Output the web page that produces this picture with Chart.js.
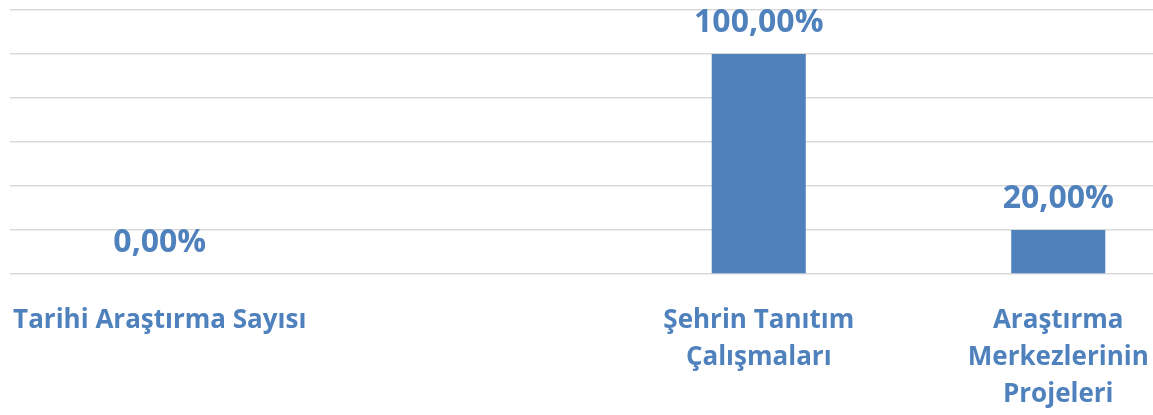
<!DOCTYPE html>
<html>
<head>
<meta charset="utf-8">
<script src="https://cdn.jsdelivr.net/npm/chart.js@4"></script>
<style>
  html, body { margin: 0; padding: 0; background: #fff; overflow: hidden; }
  #wrap { width: 1153px; height: 415px; overflow: hidden; }
</style>
</head>
<body>
<div id="wrap"><canvas id="chart" width="1210" height="415"></canvas></div>
<script>
// chart data
const categories = [
  'Tarihi Araştırma Sayısı',
  '',
  ['Şehrin Tanıtım', 'Çalışmaları'],
  ['Araştırma', 'Merkezlerinin', 'Projeleri']
];
const values = [0, null, 100, 20];
const yTicks = [0, 20, 40, 60, 80, 100, 120];

const blue = '#4F81BD';

// draws the value labels above each bar (like Excel data labels)
const valueLabels = {
  id: 'valueLabels',
  afterDatasetsDraw(chart) {
    const ctx = chart.ctx;
    const meta = chart.getDatasetMeta(0);
    ctx.save();
    ctx.font = 'bold 32px "Open Sans"';
    ctx.fillStyle = blue;
    ctx.textAlign = 'center';
    ctx.textBaseline = 'alphabetic';
    meta.data.forEach((bar, i) => {
      const v = values[i];
      if (v === null) return;
      const txt = v.toFixed(2).replace('.', ',') + '%';
      ctx.fillText(txt, bar.x, bar.y - 22);
    });
    ctx.restore();
  }
};

const ctx = document.getElementById('chart').getContext('2d');
new Chart(ctx, {
  type: 'bar',
  data: {
    labels: categories,
    datasets: [{
      data: values,
      backgroundColor: blue,
      borderWidth: 0,
      categoryPercentage: 1,
      barPercentage: 0.314
    }]
  },
  options: {
    responsive: false,
    animation: false,
    layout: { padding: { left: 10, top: 10, right: 2, bottom: 0 } },
    plugins: {
      legend: { display: false },
      tooltip: { enabled: false }
    },
    scales: {
      x: {
        grid: { display: false },
        border: { display: false },
        ticks: {
          color: blue,
          font: { family: 'Open Sans', weight: 'bold', size: 26, lineHeight: 1.42 },
          maxRotation: 0,
          autoSkip: false,
          padding: 20
        },
        afterFit(scale) {
          scale.height = 141;
          // labels may overhang a bit, don't let that shrink the plot
          scale.paddingLeft = 0;
          scale.paddingRight = 0;
        }
      },
      y: {
        min: 0,
        max: 120,
        afterBuildTicks(scale) { scale.ticks = yTicks.map(v => ({ value: v })); },
        grid: { color: '#d9d9d9', lineWidth: 1.5, drawTicks: false },
        border: { display: false },
        ticks: { display: false },
        afterFit(scale) { scale.width = 0; }
      }
    }
  },
  plugins: [valueLabels]
});
</script>
</body>
</html>
